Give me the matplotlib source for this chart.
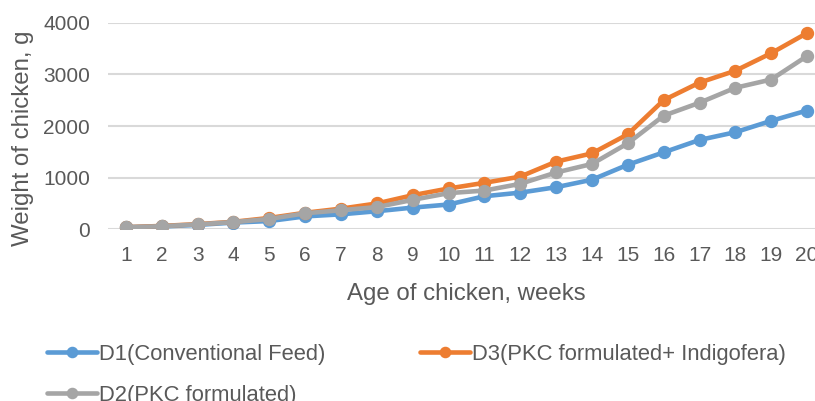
import matplotlib
matplotlib.use('Agg')
import matplotlib.pyplot as plt
import numpy as np

plt.rcParams['font.family'] = ['Liberation Sans', 'DejaVu Sans']

weeks = list(range(1, 21))
d1 = [40, 55, 85, 130, 160, 250, 290, 350, 420, 480,
      640, 710, 815, 960, 1250, 1490, 1730, 1880, 2100, 2300]
d3 = [40, 65, 100, 145, 220, 320, 400, 500, 660, 790,
      900, 1020, 1310, 1470, 1840, 2500, 2840, 3070, 3410, 3800]
d2 = [40, 60, 95, 140, 200, 310, 370, 430, 570, 700,
      750, 880, 1100, 1265, 1665, 2200, 2450, 2740, 2900, 3355]

labels = ['D1(Conventional Feed)', 'D2(PKC formulated)', 'D3(PKC formulated+ Indigofera)']
colors = ['#5B9BD5', '#A5A5A5', '#ED7D31']
txt = '#595959'

W, H = 815, 401
fig = plt.figure(figsize=(W / 100, H / 100), dpi=100)
# axes box in pixels: x 108..825 (runs past the right edge), y 22.7..229.3
ax = fig.add_axes([108 / W, 1 - 229.3 / H, (825 - 108) / W, (229.3 - 22.7) / H])

kw = dict(lw=3.3, marker='o', ms=8.6, solid_capstyle='round')
l1, = ax.plot(weeks, d1, color=colors[0], label=labels[0], zorder=3, **kw)
l3, = ax.plot(weeks, d3, color=colors[2], label=labels[2], zorder=4, **kw)
l2, = ax.plot(weeks, d2, color=colors[1], label=labels[1], zorder=5, **kw)

ax.set_xlim(0.5, 20.5)
ax.set_ylim(0, 4000)
ax.set_xticks(weeks)
ax.set_yticks(np.arange(0, 4001, 1000))
ax.grid(axis='y', color='#D9D9D9', lw=1.5)
ax.set_axisbelow(True)
for s in ax.spines.values():
    s.set_visible(False)
ax.tick_params(length=0, labelsize=15, colors=txt)
ax.tick_params(axis='x', pad=12)
ax.tick_params(axis='y', pad=13)

fig.text(466 / W, 1 - 294 / H, 'Age of chicken, weeks', ha='center', va='center',
         fontsize=17.3, color=txt)
fig.text(23 / W, 1 - 138 / H, 'Weight of chicken, g', ha='center', va='center',
         rotation=90, fontsize=17.3, color=txt)

lkw = dict(frameon=False, fontsize=15.8, labelcolor=txt, handlelength=2.28,
           handletextpad=0.1, borderpad=0, borderaxespad=0, labelspacing=0.9,
           markerscale=0.85)
fig.legend([l1, l2], labels[:2], loc='upper left',
           bbox_to_anchor=(47 / W, 1 - 344 / H), **lkw)
fig.legend([l3], labels[2:], loc='upper left',
           bbox_to_anchor=(420 / W, 1 - 344 / H), **lkw)

fig.savefig('out.png', dpi=100)
